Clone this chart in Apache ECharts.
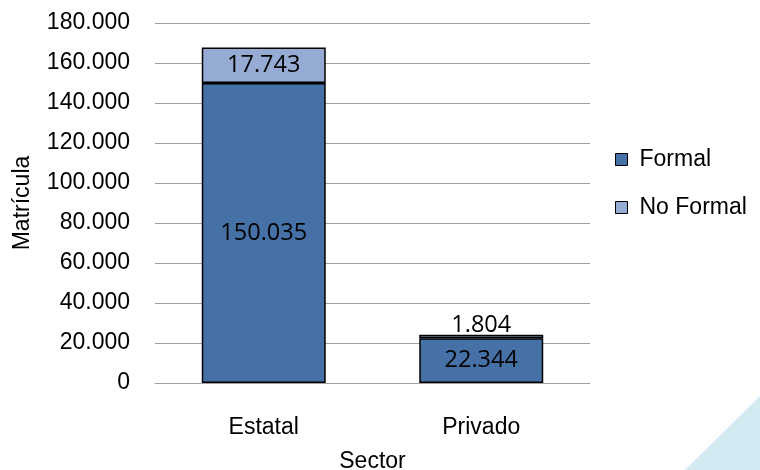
<!DOCTYPE html>
<html>
<head>
<meta charset="utf-8">
<script src="https://cdn.jsdelivr.net/npm/echarts@6/dist/echarts.min.js"></script>
<style>html,body{margin:0;padding:0;background:#fff}#c{width:760px;height:470px}</style>
</head>
<body>
<div id="c"></div>
<script>
const categories = ['Estatal', 'Privado'];
const formal = [150035, 22344];
const noFormal = [17743, 1804];
const yTicks = [0, 20000, 40000, 60000, 80000, 100000, 120000, 140000, 160000, 180000];

function fmt(v) {
  return String(v).replace(/\B(?=(\d{3})+(?!\d))/g, '.');
}

const AX_FONT = 'Liberation Sans';
const AX_SIZE = 23;
const LBL_FONT = 'Open Sans';
const LBL_SIZE = 23.5;

const chart = echarts.init(document.getElementById('c'));
chart.setOption({
  animation: false,
  backgroundColor: '#fff',
  graphic: [{
    type: 'polygon',
    shape: { points: [[685, 470], [760, 396], [760, 470]] },
    style: { fill: '#d4eaf2' },
    z: -10
  }],
  grid: { left: 155, right: 170, top: 23, bottom: 87, containLabel: false, outerBoundsMode: 'none' },
  legend: {
    orient: 'vertical',
    left: 610,
    top: 143,
    itemGap: 25,
    itemWidth: 12,
    itemHeight: 12,
    icon: 'rect',
    textStyle: { fontFamily: AX_FONT, fontSize: AX_SIZE, color: '#000', padding: [0, 0, 0, 7] },
    itemStyle: { borderColor: '#000', borderWidth: 1 },
    data: ['Formal', 'No Formal']
  },
  xAxis: {
    type: 'category',
    data: categories,
    name: 'Sector',
    nameLocation: 'middle',
    nameGap: 67,
    nameTextStyle: { fontFamily: AX_FONT, fontSize: AX_SIZE, color: '#000' },
    axisLine: { show: true, lineStyle: { color: '#a0a0a0', width: 1 } },
    axisTick: { show: false },
    axisLabel: { fontFamily: AX_FONT, fontSize: AX_SIZE, color: '#000', margin: 33 }
  },
  yAxis: {
    type: 'value',
    min: yTicks[0],
    max: yTicks[yTicks.length - 1],
    interval: 20000,
    name: 'Matrícula',
    nameLocation: 'middle',
    nameGap: 121,
    nameTextStyle: { fontFamily: AX_FONT, fontSize: AX_SIZE, color: '#000' },
    axisLine: { show: false },
    axisTick: { show: false },
    splitLine: { lineStyle: { color: '#a0a0a0', width: 1 } },
    axisLabel: {
      fontFamily: AX_FONT, fontSize: AX_SIZE, color: '#000', margin: 25,
      formatter: v => fmt(v)
    }
  },
  series: [
    {
      name: 'Formal',
      type: 'bar',
      stack: 'total',
      barWidth: '57%',
      data: formal,
      itemStyle: { color: '#4571a7', borderColor: '#000', borderWidth: 1.5 },
      label: {
        show: true, position: 'inside',
        fontFamily: LBL_FONT, fontSize: LBL_SIZE, color: '#000',
        formatter: p => fmt(p.value)
      }
    },
    {
      name: 'No Formal',
      type: 'bar',
      stack: 'total',
      barWidth: '57%',
      data: noFormal.map((v, i) => ({
        value: v,
        label: i === 1 ? { position: 'top', distance: -3 } : { position: 'inside' }
      })),
      itemStyle: { color: '#95abd3', borderColor: '#000', borderWidth: 1.5 },
      label: {
        show: true,
        fontFamily: LBL_FONT, fontSize: LBL_SIZE, color: '#000',
        formatter: p => fmt(p.value)
      }
    }
  ]
});
</script>
</body>
</html>
